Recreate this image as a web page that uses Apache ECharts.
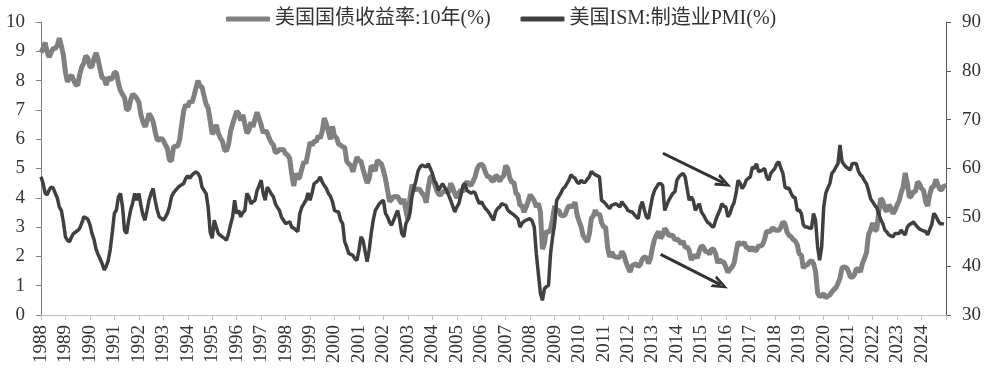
<!DOCTYPE html>
<html><head><meta charset="utf-8">
<script src="https://cdn.jsdelivr.net/npm/echarts@6/dist/echarts.min.js"></script>
<style>html,body{margin:0;padding:0;background:#fff}#c{width:992px;height:375px}</style>
</head><body><div id="c"></div>
<script>
// Series names (legend)
const seriesNames = ['美国国债收益率:10年(%)', '美国ISM:制造业PMI(%)'];
// x axis: months counted from the first observation (Jun 1988); a year tick every 12 months
const firstYear = 1988;
const monthsPerTick = 12;
const lastMonth = 444;

// 10Y Treasury yield (%), monthly
const yield1988_1999 = [
  8.95, 9.10, 9.30, 8.98, 8.80, 8.96, 9.11,
  9.09, 9.20, 9.45, 9.18, 8.86, 8.28, 7.95, 8.11, 8.19, 8.01, 7.87, 7.84,
  8.21, 8.47, 8.59, 8.85, 8.76, 8.48, 8.47, 8.75, 8.95, 8.72, 8.39, 8.08,
  8.09, 7.85, 8.11, 8.04, 8.07, 8.28, 8.27, 7.90, 7.65, 7.53, 7.42, 7.00,
  7.03, 7.34, 7.54, 7.48, 7.39, 7.26, 6.84, 6.59, 6.42, 6.59, 6.87, 6.77,
  6.60, 6.26, 5.98, 5.97, 6.04, 5.96, 5.81, 5.68, 5.30, 5.25, 5.72, 5.77,
  5.75, 5.97, 6.48, 6.97, 7.18, 7.10, 7.30, 7.24, 7.46, 7.74, 8.00, 7.81,
  7.78, 7.47, 7.20, 7.06, 6.63, 6.17, 6.28, 6.49, 6.20, 6.04, 5.93, 5.65,
  5.60, 5.81, 6.27, 6.51, 6.74, 6.95, 6.87, 6.64, 6.83, 6.53, 6.20, 6.30,
  6.58, 6.42, 6.69, 6.92, 6.71, 6.49, 6.22, 6.30, 6.21, 6.03, 5.88, 5.81,
  5.54, 5.57, 5.65, 5.64, 5.65, 5.50, 5.46, 5.34, 4.81, 4.40, 4.83, 4.65,
  4.72, 5.00, 5.23, 5.18, 5.54, 5.90, 5.79, 5.94, 5.92, 6.11, 6.03, 6.28
];
const yield2000_2009 = [
  6.72, 6.52, 6.26, 5.99, 6.44, 6.10, 6.05, 5.83, 5.80, 5.74, 5.72, 5.24,
  5.16, 5.10, 4.89, 5.14, 5.39, 5.28, 5.24, 4.97, 4.73, 4.50, 4.65, 5.09,
  5.04, 4.91, 5.28, 5.21, 5.16, 4.93, 4.65, 4.26, 3.87, 3.94, 4.05, 4.03,
  4.05, 3.90, 3.81, 3.96, 3.57, 3.25, 3.98, 4.45, 4.27, 4.29, 4.30, 4.27,
  4.15, 4.08, 3.83, 4.35, 4.72, 4.73, 4.50, 4.28, 4.13, 4.10, 4.19, 4.23,
  4.22, 4.17, 4.50, 4.34, 4.14, 4.00, 4.18, 4.26, 4.20, 4.46, 4.54, 4.47,
  4.42, 4.57, 4.72, 4.99, 5.11, 5.15, 5.09, 4.88, 4.72, 4.73, 4.60, 4.56,
  4.76, 4.72, 4.56, 4.69, 4.75, 5.10, 5.00, 4.67, 4.52, 4.53, 4.15, 4.10,
  3.74, 3.74, 3.51, 3.68, 3.88, 4.10, 4.01, 3.89, 3.69, 3.81, 3.53, 2.25,
  2.45, 2.87, 2.82, 2.93, 3.29, 3.72, 3.56, 3.59, 3.40, 3.39, 3.40, 3.59
];
const yield2010_2019 = [
  3.73, 3.69, 3.73, 3.85, 3.42, 3.20, 3.01, 2.70, 2.60, 2.50, 2.76, 3.29,
  3.39, 3.58, 3.41, 3.46, 3.17, 3.00, 3.00, 2.30, 1.98, 2.15, 2.01, 1.98,
  1.97, 1.97, 2.17, 2.05, 1.80, 1.62, 1.47, 1.68, 1.72, 1.75, 1.65, 1.72,
  1.91, 1.98, 1.96, 1.76, 1.93, 2.30, 2.58, 2.74, 2.85, 2.62, 2.72, 2.95,
  2.86, 2.71, 2.72, 2.71, 2.56, 2.60, 2.54, 2.42, 2.53, 2.30, 2.33, 2.21,
  1.88, 1.98, 2.04, 1.94, 2.20, 2.36, 2.32, 2.17, 2.17, 2.07, 2.26, 2.24,
  2.09, 1.78, 1.89, 1.81, 1.81, 1.64, 1.45, 1.56, 1.63, 1.76, 2.14, 2.49,
  2.43, 2.42, 2.48, 2.30, 2.30, 2.19, 2.32, 2.21, 2.20, 2.36, 2.35, 2.40,
  2.58, 2.86, 2.84, 2.87, 2.98, 2.91, 2.89, 2.89, 3.00, 3.18, 3.12, 2.83,
  2.71, 2.68, 2.57, 2.53, 2.40, 2.07, 2.06, 1.60, 1.70, 1.71, 1.81, 1.86
];
const yield2020_2025 = [
  1.76, 1.50, 0.75, 0.62, 0.67, 0.73, 0.58, 0.65, 0.68, 0.79, 0.87, 0.93,
  1.08, 1.26, 1.61, 1.64, 1.62, 1.52, 1.32, 1.28, 1.37, 1.58, 1.56, 1.47,
  1.76, 1.93, 2.13, 2.75, 2.90, 3.14, 2.90, 2.90, 3.52, 3.98, 3.89, 3.62,
  3.53, 3.75, 3.66, 3.46, 3.57, 3.75, 3.90, 4.17, 4.38, 4.85, 4.50, 4.02,
  4.06, 4.21, 4.21, 4.54, 4.48, 4.31, 4.25, 3.87, 3.72, 4.10, 4.36, 4.39,
  4.63, 4.45, 4.28, 4.28, 4.42, 4.38
];

// ISM manufacturing PMI, monthly
const pmi1988_1999 = [
  58.3, 57.0, 55.0, 54.6, 55.6, 56.2, 56.0,
  54.9, 54.0, 52.1, 51.4, 49.0, 46.0, 45.3, 45.0, 46.0, 46.7, 47.0, 47.3,
  47.8, 48.8, 50.1, 49.9, 49.6, 48.5, 46.7, 45.5, 43.5, 42.4, 41.5, 40.5,
  39.2, 40.0, 41.2, 43.5, 47.0, 50.8, 51.5, 54.2, 54.9, 52.1, 47.3, 46.7,
  49.4, 51.5, 53.0, 54.9, 53.5, 54.9, 52.5, 50.5, 49.4, 51.4, 53.5, 54.9,
  55.9, 53.5, 51.5, 50.1, 49.8, 49.4, 50.0, 50.8, 52.1, 54.2, 55.0, 55.5,
  56.0, 56.4, 56.7, 56.9, 58.0, 58.5, 58.0, 58.6, 59.0, 59.3, 59.0, 58.3,
  56.2, 55.5, 54.9, 52.1, 47.0, 45.7, 49.4, 48.0, 46.7, 46.3, 46.0, 45.7,
  45.3, 46.7, 48.5, 50.1, 53.5, 50.8, 51.4, 50.1, 51.0, 51.4, 54.9, 54.2,
  52.8, 53.2, 53.5, 55.5, 56.5, 57.6, 54.9, 53.5, 56.2, 55.5, 54.8, 54.2,
  52.8, 52.0, 51.4, 50.0, 49.4, 48.7, 48.9, 49.1, 48.0, 47.8, 47.4, 47.1,
  50.8, 52.1, 52.8, 53.5, 55.0, 53.5, 55.0, 56.9, 57.2, 57.6, 58.3, 57.2
];
const pmi2000_2009 = [
  56.5, 55.9, 54.9, 54.3, 53.2, 51.4, 51.2, 51.1, 49.4, 48.7, 45.0, 43.9,
  42.6, 42.4, 42.2, 41.5, 41.2, 43.3, 46.0, 45.3, 43.0, 40.9, 43.3, 46.7,
  49.4, 51.4, 52.1, 52.8, 53.2, 53.5, 50.8, 50.1, 49.0, 48.4, 49.4, 50.5,
  51.4, 49.4, 46.7, 46.0, 48.7, 49.5, 50.8, 54.2, 56.0, 57.6, 59.5, 60.3,
  60.7, 60.5, 60.3, 61.0, 60.0, 59.0, 57.5, 56.9, 55.5, 56.2, 56.9, 56.2,
  55.5, 54.5, 53.5, 52.3, 51.1, 52.1, 52.8, 54.5, 56.5, 56.9, 55.5, 55.2,
  54.9, 55.2, 55.0, 53.8, 52.8, 53.2, 52.5, 51.8, 51.4, 50.8, 50.1, 49.4,
  51.1, 51.8, 52.1, 52.8, 52.6, 52.5, 51.5, 51.1, 50.8, 50.5, 50.1, 49.7,
  48.0, 48.8, 49.2, 49.4, 49.6, 49.7, 49.2, 48.0, 42.6, 38.5, 34.5, 33.0,
  35.4, 35.8, 36.1, 42.6, 46.0, 48.7, 53.5, 54.2, 54.9, 55.8, 56.2, 56.9
];
const pmi2010_2019 = [
  57.6, 58.7, 58.3, 58.0, 57.2, 56.9, 57.6, 57.2, 57.2, 57.8, 58.3, 59.4,
  59.0, 58.7, 58.5, 58.3, 53.5, 53.2, 52.8, 52.2, 51.8, 52.5, 52.6, 52.8,
  52.5, 52.1, 53.2, 52.6, 52.1, 51.4, 51.2, 51.1, 50.6, 50.1, 49.7, 52.1,
  53.2, 51.5, 50.1, 49.7, 52.0, 54.2, 55.5, 56.2, 56.9, 56.9, 56.5, 51.4,
  52.5, 53.5, 54.2, 54.9, 55.2, 57.6, 58.3, 58.7, 59.0, 58.3, 55.9, 53.5,
  54.2, 53.5, 51.4, 52.2, 52.8, 51.1, 50.5, 49.7, 49.0, 48.7, 48.2, 48.0,
  49.4, 50.5, 51.4, 52.8, 52.3, 52.1, 50.1, 50.8, 52.1, 53.0, 54.9, 57.6,
  57.0, 55.9, 56.5, 57.6, 58.0, 58.3, 60.3, 60.0, 61.0, 59.4, 59.5, 59.7,
  60.0, 58.3, 57.6, 59.0, 59.5, 60.0, 61.0, 61.4, 60.0, 59.0, 56.2, 55.9,
  56.0, 54.9, 54.2, 54.0, 51.4, 51.5, 50.8, 48.5, 48.0, 48.0, 47.8, 47.7
];
const pmi2020_2025 = [
  50.8, 49.4, 44.0, 41.2, 43.9, 52.1, 54.9, 56.0, 56.9, 59.0, 59.5, 60.3,
  61.0, 64.8, 61.4, 60.8, 60.3, 60.0, 59.7, 61.0, 61.0, 61.0, 59.5, 58.7,
  58.3, 57.5, 56.9, 55.5, 53.8, 53.2, 52.5, 52.0, 50.8, 49.5, 48.7, 47.4,
  47.0, 46.4, 46.2, 46.0, 46.7, 46.7, 46.7, 47.4, 46.8, 46.4, 48.0, 48.5,
  48.7, 49.1, 48.5, 48.0, 47.6, 47.4, 47.2, 47.1, 46.4, 47.5, 48.5, 50.8,
  50.3, 49.4, 48.7, 48.7, 48.6
];

// Annotation arrows: [month index, yield-axis value] start and end
const arrowUpper = [[305.1, 5.52], [335.1, 4.50]];
const arrowLower = [[304.0, 2.07], [333.5, 1.03]];

const yieldAll = yield1988_1999.concat(yield2000_2009, yield2010_2019, yield2020_2025);
const pmiAll = pmi1988_1999.concat(pmi2000_2009, pmi2010_2019, pmi2020_2025);
const yieldData = yieldAll.map((v, i) => [i, v]);
const pmiData = pmiAll.map((v, i) => [i, v]);

const FONT = '"Liberation Serif", "Noto Sans CJK SC", serif';
const chevron = 'path://M6.5,0 L13,16 L9.8,16 L6.5,6.5 L3.2,16 L0,16 Z';

const chart = echarts.init(document.getElementById('c'), null, {renderer: 'canvas'});
chart.setOption({
  animation: false,
  backgroundColor: '#fff',
  textStyle: {fontFamily: FONT},
  legend: {
    top: 4, left: 221,
    itemWidth: 44, itemHeight: 5, itemGap: 30,
    icon: 'roundRect',
    textStyle: {fontSize: 20, color: '#333', fontFamily: FONT},
    data: seriesNames
  },
  grid: {left: 41, right: 46, top: 22, bottom: 60, containLabel: false, outerBoundsMode: 'none'},
  xAxis: {
    type: 'value', min: 0, max: lastMonth, interval: monthsPerTick,
    axisLine: {show: true, lineStyle: {color: '#bfbfbf', width: 1}},
    axisTick: {show: true, length: 5, lineStyle: {color: '#bfbfbf'}},
    splitLine: {show: false},
    axisLabel: {
      rotate: 90, margin: 10, fontSize: 19, color: '#333', fontFamily: FONT,
      showMinLabel: true, hideOverlap: false,
      formatter: v => (v % monthsPerTick === 0 && v < lastMonth) ? String(firstYear + v / monthsPerTick) : ''
    }
  },
  yAxis: [
    {
      type: 'value', position: 'left', min: 0, max: 10, interval: 1,
      axisLine: {show: true, lineStyle: {color: '#808080'}},
      axisTick: {show: true, length: 5, lineStyle: {color: '#808080'}},
      splitLine: {show: false},
      axisLabel: {fontSize: 19, color: '#333', margin: 16, fontFamily: FONT,
        showMinLabel: true, showMaxLabel: true, hideOverlap: false,
        formatter: v => String(v)}
    },
    {
      type: 'value', position: 'right', min: 30, max: 90, interval: 10,
      axisLine: {show: true, lineStyle: {color: '#595959'}},
      axisTick: {show: true, length: 5, lineStyle: {color: '#595959'}},
      splitLine: {show: false},
      axisLabel: {fontSize: 19, color: '#333', margin: 16, fontFamily: FONT,
        showMinLabel: true, showMaxLabel: true, hideOverlap: false}
    }
  ],
  series: [
    {
      name: seriesNames[0], type: 'line', yAxisIndex: 0,
      data: yieldData, symbol: 'none', showSymbol: false,
      color: '#808080',
      lineStyle: {width: 5, color: '#808080'},
      z: 2,
      markLine: {
        silent: true, animation: false,
        symbol: ['none', chevron], symbolSize: [13, 16],
        label: {show: false},
        lineStyle: {color: '#333', width: 3, type: 'solid'},
        emphasis: {disabled: true},
        data: [
          [{coord: arrowUpper[0]}, {coord: arrowUpper[1]}],
          [{coord: arrowLower[0]}, {coord: arrowLower[1]}]
        ]
      }
    },
    {
      name: seriesNames[1], type: 'line', yAxisIndex: 1,
      data: pmiData, symbol: 'none', showSymbol: false,
      color: '#404040',
      lineStyle: {width: 3.5, color: '#404040'},
      z: 3
    }
  ]
});
</script>
</body></html>
